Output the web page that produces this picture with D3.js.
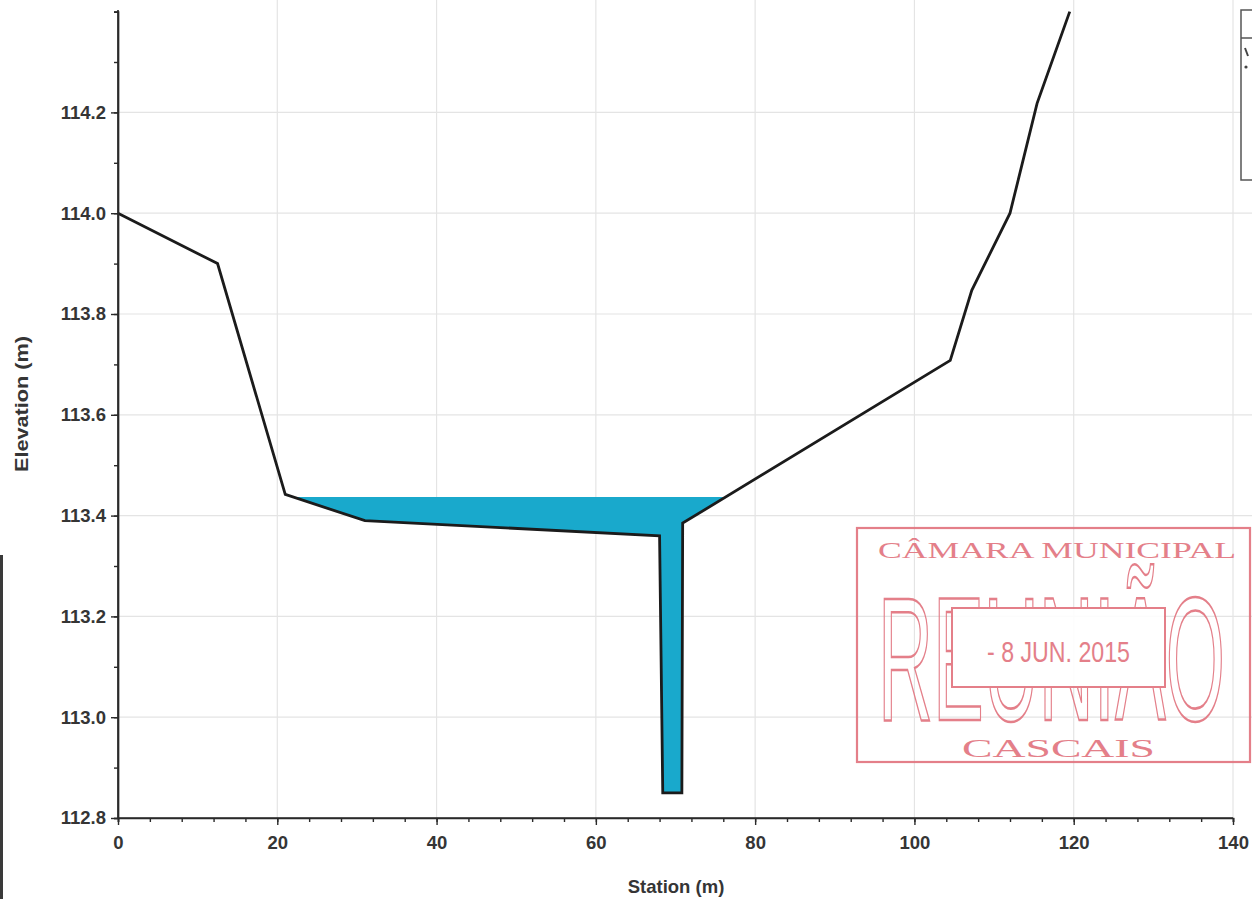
<!DOCTYPE html>
<html>
<head>
<meta charset="utf-8">
<script src="https://cdn.jsdelivr.net/npm/d3@7"></script>
<style>
  html, body { margin: 0; padding: 0; background: #ffffff; }
  svg { display: block; }
</style>
</head>
<body>
<svg id="chart" width="1252" height="899"></svg>
<script>
// ---- data ----
const station   = [0, 12.5, 21.0, 31.0, 68.0, 68.4, 70.8, 70.9, 104.5, 107.2, 112.0, 115.4, 119.5];
const elevation = [114.0, 113.9, 113.442, 113.39, 113.36, 112.85, 112.85, 113.385, 113.708, 113.847, 114.0, 114.218, 114.40];
const waterSurface = 113.437;
const xTicks = [0, 20, 40, 60, 80, 100, 120, 140];
const yTicks = [112.8, 113.0, 113.2, 113.4, 113.6, 113.8, 114.0, 114.2];
const xMinor = d3.range(0, 140.001, 4);
const yMinor = d3.range(112.8, 114.401, 0.1);
const xTitle = "Station (m)";
const yTitle = "Elevation (m)";
const stampLines = { top: "CÂMARA MUNICIPAL", big: "REUNIÃO", date: "- 8 JUN. 2015", bottom: "CASCAIS" };

// ---- layout ----
const svg = d3.select("#chart");
const x = d3.scaleLinear().domain([0, 140]).range([118, 1233]);
const y = d3.scaleLinear().domain([112.8, 114.4]).range([818, 11.6]);
const font = "'Liberation Sans', Arial, sans-serif";
const textCol = "#353535";

// grid
svg.append("g").selectAll("line").data(xTicks.slice(1)).join("line")
  .attr("x1", d => x(d)).attr("x2", d => x(d)).attr("y1", y(112.8)).attr("y2", 0)
  .attr("stroke", "#e4e4e4").attr("stroke-width", 1.2);
svg.append("g").selectAll("line").data(yTicks.slice(1)).join("line")
  .attr("x1", x(0)).attr("x2", 1252).attr("y1", d => y(d)).attr("y2", d => y(d))
  .attr("stroke", "#e4e4e4").attr("stroke-width", 1.2);

// water polygon computed from ground and water surface
const pts = station.map((s, i) => [s, elevation[i]]);
const water = [];
for (let i = 0; i < pts.length - 1; i++) {
  const [s0, e0] = pts[i], [s1, e1] = pts[i + 1];
  const below0 = e0 < waterSurface, below1 = e1 < waterSurface;
  if (below0) water.push([s0, e0]);
  if (below0 !== below1) {
    const t = (waterSurface - e0) / (e1 - e0);
    water.push([s0 + t * (s1 - s0), waterSurface]);
  }
}
svg.append("path")
  .attr("d", d3.line().x(d => x(d[0])).y(d => y(d[1]))(water) + "Z")
  .attr("fill", "#19a9cc").attr("stroke", "none");

// ground line
svg.append("path")
  .attr("d", d3.line().x(d => x(d[0])).y(d => y(d[1]))(pts))
  .attr("fill", "none").attr("stroke", "#1b1b1b").attr("stroke-width", 2.8)
  .attr("stroke-linejoin", "miter");

// axes
const ax = svg.append("g").attr("transform", `translate(0,${y(112.8)})`)
  .call(d3.axisBottom(x).tickValues(xTicks).tickSize(7).tickPadding(11).tickFormat(d3.format("d")));
const axm = svg.append("g").attr("transform", `translate(0,${y(112.8)})`)
  .call(d3.axisBottom(x).tickValues(xMinor).tickSize(4).tickFormat(""));
const ay = svg.append("g").attr("transform", `translate(${x(0)},0)`)
  .call(d3.axisLeft(y).tickValues(yTicks).tickSize(7).tickPadding(5).tickFormat(d3.format(".1f")));
const aym = svg.append("g").attr("transform", `translate(${x(0)},0)`)
  .call(d3.axisLeft(y).tickValues(yMinor).tickSize(4).tickFormat(""));
[ax, axm, ay, aym].forEach(g => {
  g.select(".domain").attr("stroke", "#2a2a2a").attr("stroke-width", 1.7);
  g.selectAll(".tick line").attr("stroke", "#2a2a2a").attr("stroke-width", 1.4);
  g.selectAll("text").attr("font-family", font).attr("font-size", 18.5).attr("font-weight", "bold").attr("fill", textCol);
});
ax.select(".domain").attr("d", `M${x(0)},0H${x(140)}`);
ay.select(".domain").attr("d", `M0,${y(112.8)}V10`);

// axis titles
svg.append("text").attr("x", 676).attr("y", 893).attr("text-anchor", "middle")
  .attr("font-family", font).attr("font-size", 18.5).attr("font-weight", "bold").attr("fill", textCol).text(xTitle);
svg.append("text").attr("transform", "translate(28,404) rotate(-90)").attr("text-anchor", "middle")
  .attr("textLength", 136).attr("lengthAdjust", "spacingAndGlyphs")
  .attr("font-family", font).attr("font-size", 18.5).attr("font-weight", "bold").attr("fill", textCol).text(yTitle);

// legend box (cut off at right edge): frame, header rule and line samples
const lg = svg.append("g");
lg.append("rect").attr("x", 1241).attr("y", 10).attr("width", 40).attr("height", 170)
  .attr("fill", "#fff").attr("stroke", "#555").attr("stroke-width", 1.5);
lg.append("line").attr("x1", 1241).attr("x2", 1252).attr("y1", 38).attr("y2", 38)
  .attr("stroke", "#555").attr("stroke-width", 1.5);
lg.append("line").attr("x1", 1245).attr("x2", 1248).attr("y1", 48).attr("y2", 56)
  .attr("stroke", "#444").attr("stroke-width", 2);
lg.append("circle").attr("cx", 1246).attr("cy", 67).attr("r", 1.6).attr("fill", "#444");

// scan artifact on left edge
svg.append("rect").attr("x", 0).attr("y", 555).attr("width", 3).attr("height", 344).attr("fill", "#3a3a3a");

// stamp
const red = "#e27580";
const serif = "'Liberation Serif', 'DejaVu Serif', serif";
const st = svg.append("g").attr("opacity", 0.92);
st.append("rect").attr("x", 857).attr("y", 528).attr("width", 393).attr("height", 234)
  .attr("fill", "none").attr("stroke", red).attr("stroke-width", 2.2);
st.append("text").attr("x", 878).attr("y", 558).attr("textLength", 358).attr("lengthAdjust", "spacingAndGlyphs")
  .attr("font-family", serif).attr("font-size", 24).attr("fill", red)
  .text(stampLines.top);
const big = st.append("text").attr("x", 0).attr("y", 0)
  .attr("font-family", font).attr("font-size", 176).attr("fill", "none").attr("stroke", red).attr("stroke-width", 2.2)
  .text(stampLines.big);
const bigW = big.node().getComputedTextLength() || 800;
big.attr("transform", `translate(878,720) scale(${347 / bigW},1)`).attr("stroke-width", 2.2 * bigW / 347 * 0.5);
st.append("rect").attr("x", 952).attr("y", 608).attr("width", 213).attr("height", 79)
  .attr("fill", "#fff").attr("stroke", red).attr("stroke-width", 2);
st.append("text").attr("x", 987).attr("y", 662).attr("textLength", 143).attr("lengthAdjust", "spacingAndGlyphs")
  .attr("font-family", font).attr("font-size", 29).attr("fill", red).text(stampLines.date);
st.append("text").attr("x", 962).attr("y", 757).attr("textLength", 193).attr("lengthAdjust", "spacingAndGlyphs")
  .attr("font-family", serif).attr("font-size", 26).attr("fill", red)
  .text(stampLines.bottom);
</script>
</body>
</html>
